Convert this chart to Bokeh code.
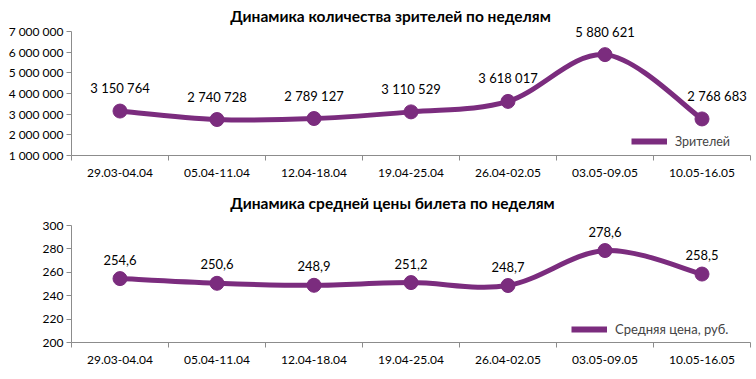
from bokeh.plotting import figure
from bokeh.models import (Range1d, FixedTicker, CustomJSTickFormatter, ColumnDataSource,
                          Legend, LegendItem, LabelSet, Label)
from bokeh.layouts import column
from bokeh.embed import file_html
from bokeh.resources import INLINE
from bokeh.core.properties import value

weeks = ["29.03-04.04", "05.04-11.04", "12.04-18.04", "19.04-25.04",
         "26.04-02.05", "03.05-09.05", "10.05-16.05"]
viewers = [3150764, 2740728, 2789127, 3110529, 3618017, 5880621, 2768683]
price = [254.6, 250.6, 248.9, 251.2, 248.7, 278.6, 258.5]

title1 = "Динамика количества зрителей по неделям"
title2 = "Динамика средней цены билета по неделям"
legend1 = "Зрителей"
legend2 = "Средняя цена, руб."

PURPLE = "#7B2C7E"
GREY = "#8C8C8C"
FONT = "Lato"


def smooth_segments(xs, ys):
    n = len(xs)
    px = [xs[0]] + list(xs) + [xs[-1]]
    py = [ys[0]] + list(ys) + [ys[-1]]
    d = dict(x0=[], y0=[], x1=[], y1=[], cx0=[], cy0=[], cx1=[], cy1=[])
    for i in range(1, n):
        p0x, p0y = px[i - 1], py[i - 1]
        p1x, p1y = px[i], py[i]
        p2x, p2y = px[i + 1], py[i + 1]
        p3x, p3y = px[i + 2], py[i + 2]
        d["x0"].append(p1x); d["y0"].append(p1y)
        d["x1"].append(p2x); d["y1"].append(p2y)
        d["cx0"].append(p1x + (p2x - p0x) / 6); d["cy0"].append(p1y + (p2y - p0y) / 6)
        d["cx1"].append(p2x - (p3x - p1x) / 6); d["cy1"].append(p2y - (p3y - p1y) / 6)
    return d


def make_chart(vals, labels, label_dx, title, legend_text, ymin, ymax, ystep,
               axis_px, top_pad_px, border_bottom, title_x, title_y,
               label_dy, legend_loc, legend_font, fmt_code):
    n = len(weeks)
    xs = [i + 0.5 for i in range(n)]
    yend = ymax + (ymax - ymin) * top_pad_px / axis_px
    p = figure(frame_width=679, frame_height=axis_px + top_pad_px, output_backend="svg",
               toolbar_location=None, title=None,
               x_range=Range1d(0, n), y_range=Range1d(ymin, yend),
               min_border_left=71, min_border_right=2,
               min_border_top=0, min_border_bottom=border_bottom)
    p.outline_line_color = None
    p.xgrid.visible = False
    p.ygrid.visible = False
    p.background_fill_color = "white"
    p.border_fill_color = "white"

    p.add_layout(Label(x=title_x, y=title_y, x_units="screen", y_units="screen",
                       text=title, text_font=FONT, text_font_size="15.5px",
                       text_font_style="bold", text_align="center",
                       text_baseline="middle", text_color="black"))

    # x axis
    xa = p.xaxis[0]
    xa.ticker = FixedTicker(ticks=xs, minor_ticks=list(range(n + 1)))
    xa.major_label_overrides = {x: w for x, w in zip(xs, weeks)}
    xa.major_tick_out = 0
    xa.major_tick_in = 0
    xa.minor_tick_out = 5
    xa.minor_tick_in = 0
    xa.minor_tick_line_color = GREY
    xa.axis_line_color = GREY
    xa.major_label_text_font = FONT
    xa.major_label_text_font_size = "12px"
    xa.major_label_text_color = "black"
    xa.major_label_standoff = 8

    # y axis
    ya = p.yaxis[0]
    ticks = []
    t = ymin
    while t <= ymax + 1e-9:
        ticks.append(t)
        t += ystep
    ya.ticker = FixedTicker(ticks=ticks, minor_ticks=[])
    ya.formatter = CustomJSTickFormatter(code=fmt_code)
    ya.bounds = (ymin, ymax)
    ya.major_tick_out = 5
    ya.major_tick_in = 0
    ya.major_tick_line_color = GREY
    ya.axis_line_color = GREY
    ya.major_label_text_font = FONT
    ya.major_label_text_font_size = "12px"
    ya.major_label_text_color = "black"
    ya.major_label_standoff = 3

    seg = smooth_segments(xs, vals)
    p.bezier(x0="x0", y0="y0", x1="x1", y1="y1", cx0="cx0", cy0="cy0", cx1="cx1", cy1="cy1",
             source=ColumnDataSource(seg), line_color=PURPLE, line_width=5)
    p.scatter(xs, vals, size=14, fill_color=PURPLE, line_color=PURPLE)

    lsrc = ColumnDataSource(dict(x=xs, y=vals, t=labels, dx=label_dx))
    p.add_layout(LabelSet(x="x", y="y", text="t", source=lsrc, x_offset="dx", y_offset=label_dy,
                          text_font=value(FONT), text_font_size=value("13px"),
                          text_align="center", text_baseline="bottom",
                          text_color="black"))

    nan = float("nan")
    dummy = p.line(x=[nan, nan], y=[nan, nan], line_color=PURPLE, line_width=6)
    leg = Legend(items=[LegendItem(label=legend_text, renderers=[dummy])],
                 location=legend_loc, border_line_color=None, background_fill_alpha=0,
                 label_text_font=FONT, label_text_font_size=legend_font, glyph_width=36,
                 label_standoff=8, padding=2, margin=0)
    p.add_layout(leg)
    return p


v_labels = [f"{v:,}".replace(",", " ") for v in viewers]
p_labels = [f"{v:.1f}".replace(".", ",") for v in price]
v_dx = [0, 0, 0, 0, 0, 0, 15]
p_dx = [0, 0, 0, 0, 0, 0, 0]

code = "return Math.round(tick).toString().replace(/\\B(?=(\\d{3})+(?!\\d))/g, ' ');"
p1 = make_chart(viewers, v_labels, v_dx, title1, legend1, 1000000, 7000000, 1000000,
                124, 31, 29, 319, 140, 15, (560, 4), "12.5px", code)
p2 = make_chart(price, p_labels, p_dx, title2, legend2, 200, 300, 20,
                117, 41, 30, 321, 140, 14, (500, 3), "13px", code)

layout = column(p1, p2, spacing=0)
open("out.html", "w").write(file_html(layout, INLINE))
